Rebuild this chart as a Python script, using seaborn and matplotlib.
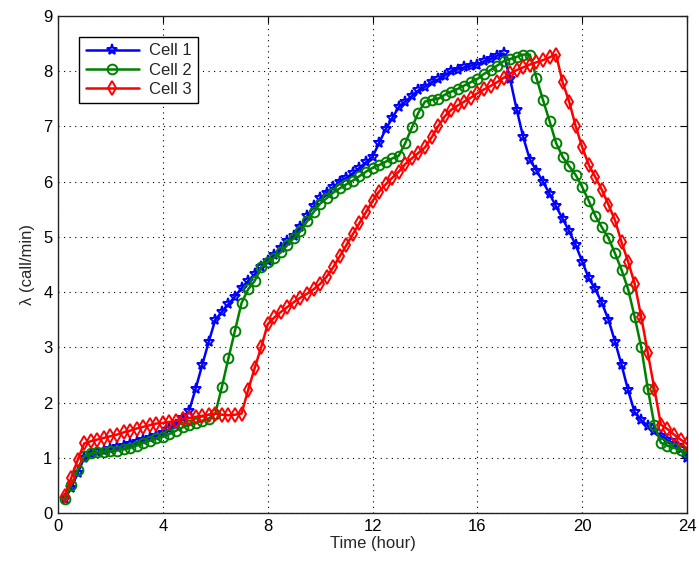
import numpy as np
import pandas as pd
import matplotlib
matplotlib.use("Agg")
import matplotlib.pyplot as plt
import seaborn as sns

hours = [0.25, 0.5, 0.75, 1.0, 1.25, 1.5, 1.75, 2.0, 2.25, 2.5, 2.75, 3.0,
         3.25, 3.5, 3.75, 4.0, 4.25, 4.5, 4.75, 5.0, 5.25, 5.5, 5.75, 6.0,
         6.25, 6.5, 6.75, 7.0, 7.25, 7.5, 7.75, 8.0, 8.25, 8.5, 8.75, 9.0,
         9.25, 9.5, 9.75, 10.0, 10.25, 10.5, 10.75, 11.0, 11.25, 11.5, 11.75, 12.0,
         12.25, 12.5, 12.75, 13.0, 13.25, 13.5, 13.75, 14.0, 14.25, 14.5, 14.75, 15.0,
         15.25, 15.5, 15.75, 16.0, 16.25, 16.5, 16.75, 17.0, 17.25, 17.5, 17.75, 18.0,
         18.25, 18.5, 18.75, 19.0, 19.25, 19.5, 19.75, 20.0, 20.25, 20.5, 20.75, 21.0,
         21.25, 21.5, 21.75, 22.0, 22.25, 22.5, 22.75, 23.0, 23.25, 23.5, 23.75, 24.0]

cell1 = [0.25, 0.45, 0.72, 1.0, 1.06, 1.1, 1.13, 1.16, 1.19, 1.22, 1.25, 1.28,
         1.32, 1.36, 1.40, 1.45, 1.52, 1.6, 1.72, 1.85, 2.25, 2.68, 3.1, 3.5,
         3.64, 3.78, 3.92, 4.07, 4.2, 4.32, 4.45, 4.57, 4.68, 4.8, 4.92, 5.02,
         5.17, 5.37, 5.55, 5.7, 5.8, 5.9, 6.0, 6.07, 6.15, 6.25, 6.35, 6.45,
         6.7, 6.95, 7.15, 7.35, 7.45, 7.55, 7.65, 7.72, 7.8, 7.85, 7.92, 8.0,
         8.03, 8.07, 8.1, 8.12, 8.18, 8.22, 8.28, 8.32, 7.85, 7.3, 6.8, 6.4,
         6.2, 6.0, 5.78, 5.55, 5.33, 5.1, 4.85, 4.55, 4.25, 4.05, 3.8, 3.5,
         3.1, 2.68, 2.22, 1.82, 1.68, 1.58, 1.48, 1.4, 1.32, 1.25, 1.15, 1.0]

cell2 = [0.25, 0.5, 0.78, 1.03, 1.08, 1.1, 1.11, 1.12, 1.13, 1.15, 1.18, 1.22,
         1.27, 1.31, 1.35, 1.38, 1.43, 1.49, 1.55, 1.59, 1.63, 1.67, 1.71, 1.8,
         2.28, 2.8, 3.3, 3.8, 4.05, 4.2, 4.45, 4.55, 4.62, 4.72, 4.85, 4.98,
         5.1, 5.28, 5.45, 5.6, 5.7, 5.8, 5.88, 5.95, 6.02, 6.1, 6.18, 6.25,
         6.3, 6.36, 6.42, 6.47, 6.7, 6.98, 7.25, 7.45, 7.48, 7.5, 7.57, 7.63,
         7.68, 7.74, 7.8, 7.86, 7.95, 8.02, 8.1, 8.18, 8.22, 8.26, 8.3, 8.3,
         7.88, 7.48, 7.1, 6.7, 6.45, 6.28, 6.12, 5.9, 5.65, 5.38, 5.17, 4.98,
         4.7, 4.4, 4.05, 3.55, 3.0, 2.25, 1.6, 1.27, 1.22, 1.18, 1.14, 1.1]

cell3 = [0.3, 0.63, 0.96, 1.26, 1.3, 1.33, 1.36, 1.39, 1.42, 1.46, 1.49, 1.53,
         1.56, 1.59, 1.62, 1.63, 1.65, 1.67, 1.7, 1.72, 1.74, 1.76, 1.78, 1.8,
         1.78, 1.77, 1.78, 1.8, 2.22, 2.62, 3.0, 3.42, 3.54, 3.64, 3.73, 3.82,
         3.9, 3.97, 4.05, 4.15, 4.28, 4.45, 4.65, 4.85, 5.05, 5.25, 5.45, 5.65,
         5.82, 5.95, 6.07, 6.18, 6.32, 6.42, 6.52, 6.62, 6.8, 7.0, 7.18, 7.3,
         7.38, 7.45, 7.52, 7.6, 7.67, 7.73, 7.8, 7.88, 7.96, 8.02, 8.07, 8.12,
         8.16, 8.2, 8.25, 8.3, 7.8, 7.45, 7.0, 6.62, 6.3, 6.08, 5.85, 5.58,
         5.3, 4.9, 4.55, 4.15, 3.55, 2.9, 2.25, 1.6, 1.52, 1.42, 1.33, 1.25]

series_names = ["Cell 1", "Cell 2", "Cell 3"]
series_colors = ["#0000ff", "#008000", "#ff0000"]
series_markers = ["*", "o", "d"]
x_ticks = [0, 4, 8, 12, 16, 20, 24]
y_ticks = [0, 1, 2, 3, 4, 5, 6, 7, 8, 9]

sns.set_style("white")
plt.rcParams["font.family"] = ["Liberation Sans", "DejaVu Sans"]

fig = plt.figure(figsize=(6.99, 5.69), dpi=100)
ax = fig.add_axes([0.083, 0.0984, 0.9, 0.8736])

for name, vals, col, mk in zip(series_names, [cell1, cell2, cell3],
                               series_colors, series_markers):
    df = pd.DataFrame({"t": hours, "v": vals})
    sns.lineplot(data=df, x="t", y="v", ax=ax, color=col, linewidth=1.8,
                 marker=mk, markersize=7 if mk != "*" else 8,
                 markerfacecolor="none", markeredgecolor=col,
                 markeredgewidth=1.4, label=name)

ax.set_xlim(0, 24)
ax.set_ylim(0, 9)
ax.set_xticks(x_ticks)
ax.set_yticks(y_ticks)
ax.tick_params(direction="in", length=5, width=0.8, top=True, right=True,
               labelsize=12, colors="black", pad=4)
ax.grid(True, color="black", linestyle=(0, (1, 4)), linewidth=0.8)
for sp in ax.spines.values():
    sp.set_visible(True)
    sp.set_color("#222222")
    sp.set_linewidth(1.0)

ax.set_xlabel("Time (hour)", fontsize=12, labelpad=2)
ax.set_ylabel("λ (call/min)", fontsize=12, labelpad=6)

leg = ax.legend(loc="upper left", bbox_to_anchor=(0.02, 0.975), fontsize=12,
                frameon=True, fancybox=False, edgecolor="black",
                framealpha=1, borderpad=0.4, labelspacing=0.25,
                handlelength=3.2, handletextpad=0.6)
leg.get_frame().set_linewidth(1.0)

fig.savefig("out.png", dpi=100)
